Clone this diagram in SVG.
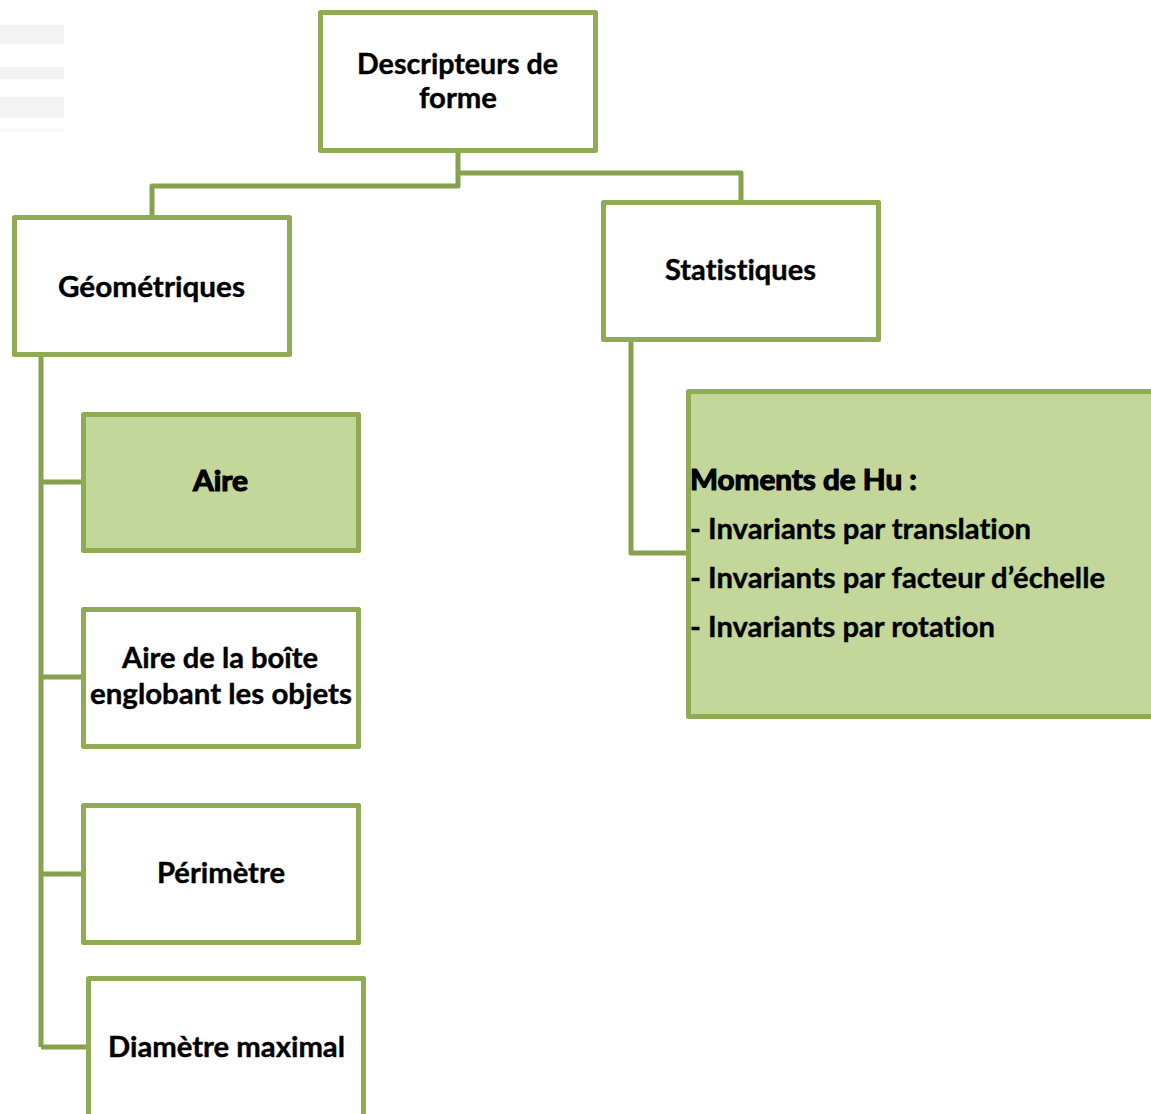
<svg xmlns="http://www.w3.org/2000/svg" width="1151" height="1114" viewBox="0 0 1151 1114">
<style>
.box{fill:#ffffff;stroke:#8fac54;stroke-width:5;stroke-linejoin:round}
.hl{fill:#c4d79b}
.conn{fill:none;stroke:#86a24e;stroke-width:5;stroke-linejoin:round;stroke-linecap:butt}
.t{font-family:Lato,"Liberation Sans",sans-serif;font-weight:700;font-size:29px;fill:#000;stroke:#000;stroke-width:0.4;font-variant-ligatures:none;font-feature-settings:"liga" 0,"clig" 0}
.heavy{stroke-width:1.2}
.ghost{fill:#f3f3f3}
</style>
<rect width="1151" height="1114" fill="#ffffff"/>
<g id="artifacts">
<rect class="ghost" x="0" y="25" width="64" height="19"/>
<rect class="ghost" x="0" y="67" width="64" height="12"/>
<rect class="ghost" x="0" y="97" width="64" height="21"/>
<rect class="ghost" x="0" y="128" width="64" height="4" opacity="0.6"/>
</g>
<g id="connectors">
<path class="conn" d="M458 150 V186 H152 V217"/>
<path class="conn" d="M458 173 H741 V202"/>
<path class="conn" d="M41 355 V1047"/>
<path class="conn" d="M41 482 H83"/>
<path class="conn" d="M41 677 H83"/>
<path class="conn" d="M41 874 H83"/>
<path class="conn" d="M41 1047 H88"/>
<path class="conn" d="M631 340 V553 H688"/>
</g>
<g id="root">
<rect class="box" x="320.5" y="12.5" width="275" height="138"/>
<text class="t" x="357" y="74" textLength="201" lengthAdjust="spacingAndGlyphs">Descripteurs de</text>
<text class="t" x="419" y="108" textLength="78" lengthAdjust="spacingAndGlyphs">forme</text>
</g>
<g id="geometriques">
<rect class="box" x="14.5" y="217.5" width="275" height="137"/>
<text class="t" x="58" y="297" textLength="187" lengthAdjust="spacingAndGlyphs">Géométriques</text>
</g>
<g id="statistiques">
<rect class="box" x="603.5" y="202.5" width="275" height="137"/>
<text class="t" x="665" y="280" textLength="151" lengthAdjust="spacingAndGlyphs">Statistiques</text>
</g>
<g id="aire">
<rect class="box hl" x="83.5" y="414.5" width="275" height="136"/>
<text class="t heavy" x="193" y="491" textLength="55" lengthAdjust="spacingAndGlyphs">Aire</text>
</g>
<g id="aire-boite">
<rect class="box" x="83.5" y="609.5" width="275" height="137"/>
<text class="t" x="122" y="668" textLength="196" lengthAdjust="spacingAndGlyphs">Aire de la boîte</text>
<text class="t" x="90" y="704" textLength="262" lengthAdjust="spacingAndGlyphs">englobant les objets</text>
</g>
<g id="perimetre">
<rect class="box" x="83.5" y="805.5" width="275" height="137"/>
<text class="t" x="157" y="883" textLength="128" lengthAdjust="spacingAndGlyphs">Périmètre</text>
</g>
<g id="diametre">
<rect class="box" x="88.5" y="978.5" width="275" height="145"/>
<text class="t" x="108" y="1057" textLength="237" lengthAdjust="spacingAndGlyphs">Diamètre maximal</text>
</g>
<g id="hu">
<rect class="box hl" x="688.5" y="391.5" width="475" height="325"/>
<text class="t heavy" x="690" y="490" textLength="227" lengthAdjust="spacingAndGlyphs">Moments de Hu :</text>
<text class="t" x="690" y="539" textLength="341" lengthAdjust="spacingAndGlyphs">- Invariants par translation</text>
<text class="t" x="690" y="588" textLength="415" lengthAdjust="spacingAndGlyphs">- Invariants par facteur d’échelle</text>
<text class="t" x="690" y="637" textLength="305" lengthAdjust="spacingAndGlyphs">- Invariants par rotation</text>
</g>
</svg>
